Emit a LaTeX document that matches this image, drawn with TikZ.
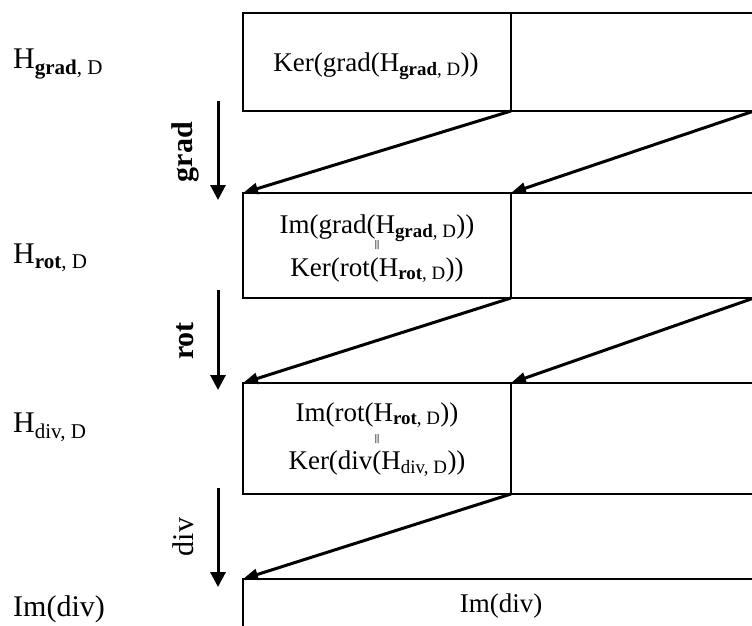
\documentclass[tikz,border=0pt]{standalone}
\usepackage{fontspec}
\setmainfont{Liberation Serif}
\usetikzlibrary{arrows.meta,positioning}

\newcommand{\Hsp}[1]{H\textsubscript{#1, D}}

\tikzset{
  cell/.style={draw, line width=1.6pt, inner sep=0pt, outer sep=0pt, anchor=north west},
  txt/.style={font=\fontsize{27}{30}\selectfont, anchor=base, inner sep=0pt},
  bars/.style={font=\fontsize{10}{10}\selectfont\bfseries, inner sep=0pt},
  sidelab/.style={font=\fontsize{30}{34}\selectfont, anchor=base west, inner sep=0pt},
  opname/.style={font=\fontsize{30}{34}\selectfont, rotate=90, inner sep=0pt},
  drop/.style={line width=3pt, -{Triangle[length=15pt,width=15pt]}},
  slant/.style={line width=3pt, -{Triangle[length=15pt,width=11pt]}},
}

\begin{document}
\begin{tikzpicture}[x=1pt,y=-1pt]
    \useasboundingbox (0,0) rectangle (752,626);
    \clip (0,0) rectangle (752,626);

    % Boxes
    \node[cell, minimum width=268pt, minimum height=98pt] (kergrad) at (243,13) {};
    \node[cell, minimum width=243pt, minimum height=98pt, right=0pt of kergrad] (kergradR) {};
    \node[cell, minimum width=268pt, minimum height=105pt] (imgrad) at (243,193) {};
    \node[cell, minimum width=243pt, minimum height=105pt, right=0pt of imgrad] (imgradR) {};
    \node[cell, minimum width=268pt, minimum height=111pt] (imrot) at (243,383) {};
    \node[cell, minimum width=243pt, minimum height=111pt, right=0pt of imrot] (imrotR) {};
    \node[cell, minimum width=511pt, minimum height=100pt] (imdiv) at (243,579) {};

    % Box texts
    \node[txt] (tkergrad) at (376,71) {Ker(grad(\Hsp{\textbf{grad}}))};
    \node[txt] (timgrad) at (377,233) {Im(grad(\Hsp{\textbf{grad}}))};
    \node[bars] (eqgrad) at (377,245) {||};
    \node[txt] (tkerrot) at (377,276) {Ker(rot(\Hsp{\textbf{rot}}))};
    \node[txt] (timrot) at (377,421) {Im(rot(\Hsp{\textbf{rot}}))};
    \node[bars] (eqrot) at (377,439) {||};
    \node[txt] (tkerdiv) at (377,469) {Ker(div(\Hsp{div}))};
    \node[txt] (timdiv) at (501,612) {Im(div)};

    % Spaces on the left
    \node[sidelab] (hgrad) at (13,68) {\Hsp{\textbf{grad}}};
    \node[sidelab] (hrot) at (13,263) {\Hsp{\textbf{rot}}};
    \node[sidelab] (hdiv) at (13,432) {\Hsp{div}};
    \node[sidelab] (hend) at (13,616) {Im(div)};

    % Operators
    \coordinate (gtop) at (218,101);
    \coordinate (gbot) at (218,200);
    \coordinate (rtop) at (218,290);
    \coordinate (rbot) at (218,390);
    \coordinate (dtop) at (218,488);
    \coordinate (dbot) at (218,587);
    \draw[drop] (gtop) -- (gbot);
    \draw[drop] (rtop) -- (rbot);
    \draw[drop] (dtop) -- (dbot);
    \node[opname] (lgrad) at (185,152) {\textbf{grad}};
    \node[opname] (lrot) at (185,341) {\textbf{rot}};
    \node[opname] (ldiv) at (183,537) {div};

    % Shifts between rows
    \draw[slant] (kergrad.south east) -- (imgrad.north west);
    \draw[slant] (kergradR.south east) -- (imgradR.north west);
    \draw[slant] (imgrad.south east) -- (imrot.north west);
    \draw[slant] (imgradR.south east) -- (imrotR.north west);
    \draw[slant] (imrot.south east) -- (imdiv.north west);
\end{tikzpicture}
\end{document}
